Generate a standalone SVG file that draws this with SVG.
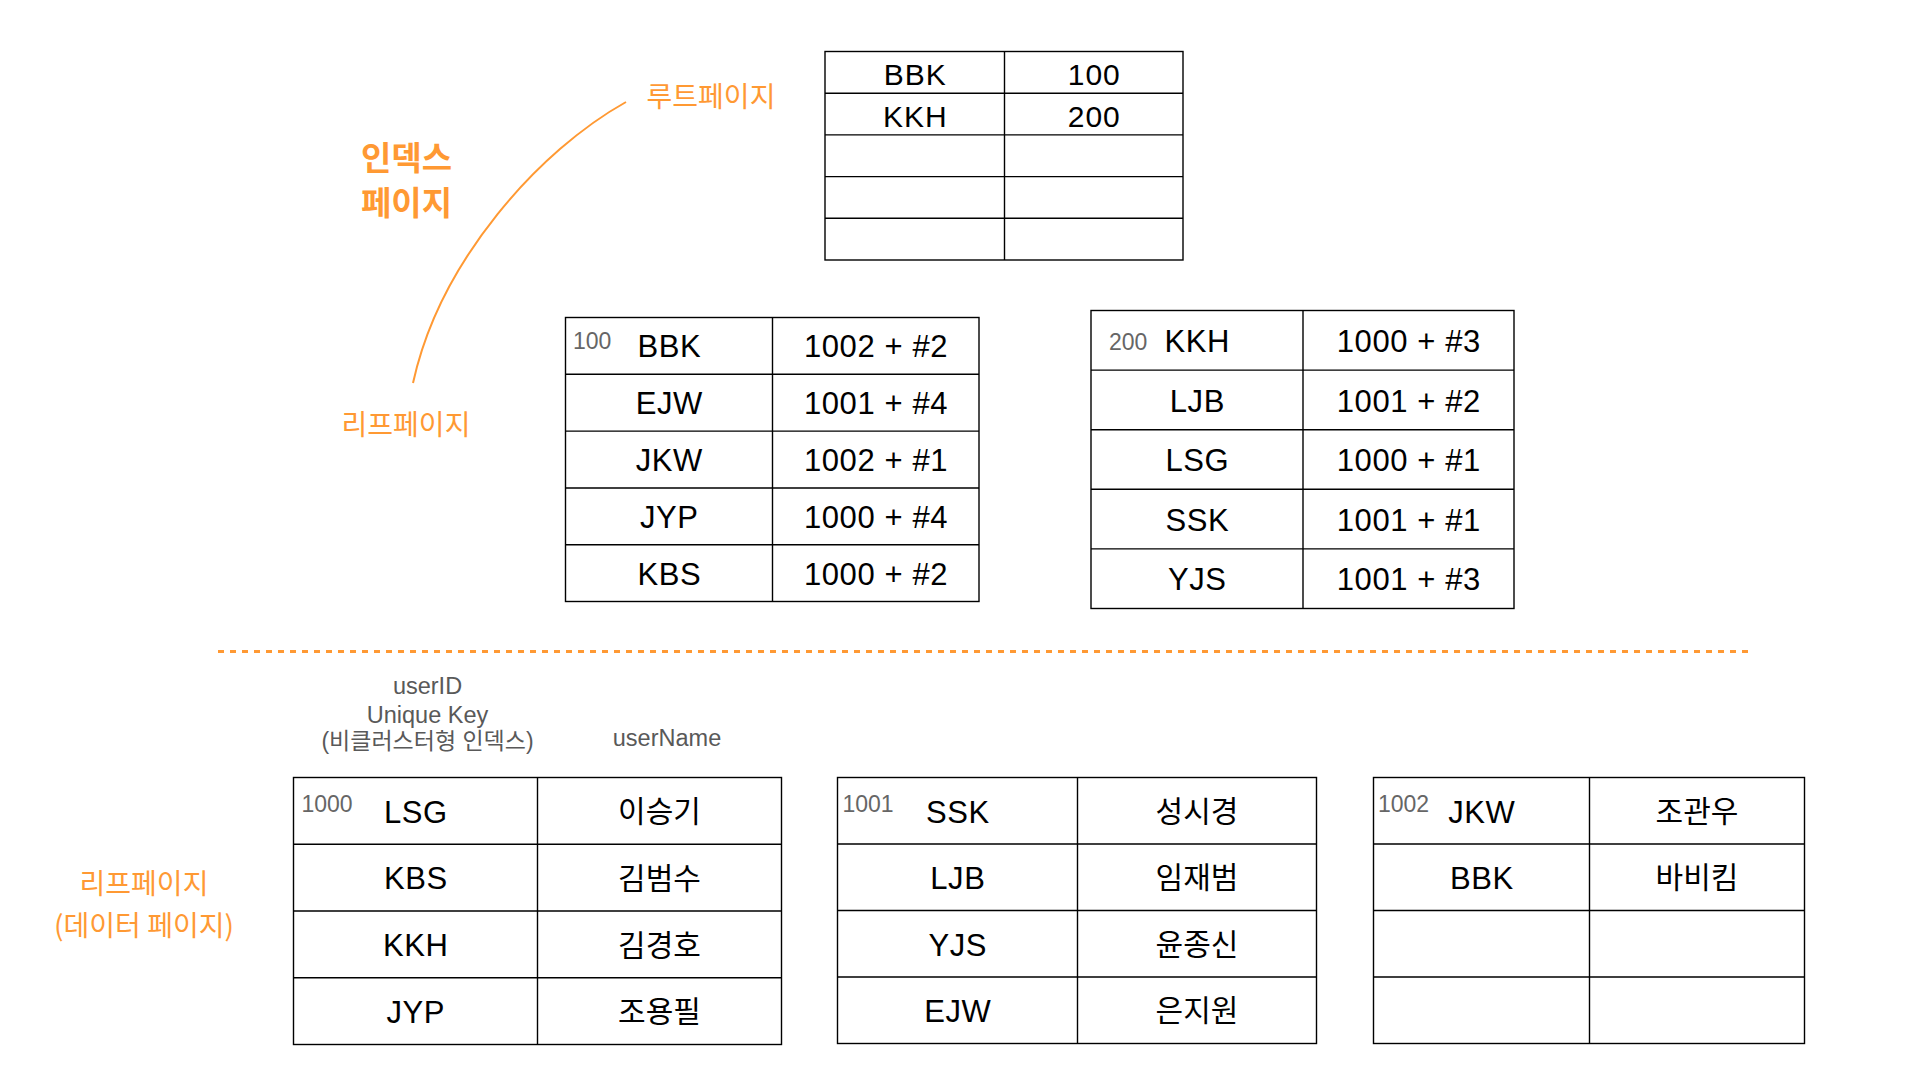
<svg xmlns="http://www.w3.org/2000/svg" width="1916" height="1076" viewBox="0 0 1916 1076">
<style>
.cell{fill:#fff;stroke:#000;stroke-width:1.4}
.ln{stroke:#000;stroke-width:1.4;fill:none}
.t{font-family:"Liberation Sans","Noto Sans CJK KR",Arial,sans-serif;fill:#000;text-anchor:middle}
.k{font-family:"Noto Sans CJK KR","Liberation Sans",sans-serif;fill:#000;text-anchor:middle;font-size:30px}
.sm{font-family:"Liberation Sans",Arial,sans-serif;fill:#666;font-size:23px}
.or{font-family:"Noto Sans CJK KR","Liberation Sans",sans-serif;fill:#FF9933;text-anchor:middle;font-size:28px}
.hd{font-family:"Liberation Sans","Noto Sans CJK KR",sans-serif;fill:#595959;text-anchor:middle;font-size:23.5px}
</style>
<rect width="1916" height="1076" fill="#fff"/>

<g id="connectors">
<path d="M626,102 C540,150 440,260 413,383" fill="none" stroke="#FF9933" stroke-width="2"/>
<path d="M218,651.5 H1750" fill="none" stroke="#FF9933" stroke-width="3" stroke-dasharray="6 6"/>
</g>

<g id="label-root">
<text class="or" x="711" y="107">루트페이지</text>
</g>
<g id="label-index">
<text class="or" x="406.5" y="170" style="font-size:33px;font-weight:bold">인덱스</text>
<text class="or" x="406.5" y="215" style="font-size:33px;font-weight:bold">페이지</text>
</g>
<g id="label-leaf">
<text class="or" x="406" y="435">리프페이지</text>
</g>
<g id="label-data">
<text class="or" x="144" y="894">리프페이지</text>
<text class="or" x="144" y="936">(데이터 페이지)</text>
</g>

<g id="root-page">
<rect class="cell" x="825" y="51.5" width="358" height="208.5"/>
<path class="ln" d="M1004.5,51.5 V260 M825,93.2 H1183 M825,134.9 H1183 M825,176.6 H1183 M825,218.3 H1183"/>
<g class="t" font-size="30" letter-spacing="1">
<text x="915.25" y="85">BBK</text>
<text x="1094.25" y="85">100</text>
<text x="915.25" y="127">KKH</text>
<text x="1094.25" y="127">200</text>
</g>
</g>

<g id="leaf-100">
<rect class="cell" x="565.5" y="317.5" width="413.5" height="284"/>
<path class="ln" d="M772.5,317.5 V601.5 M565.5,374.3 H979 M565.5,431.1 H979 M565.5,488 H979 M565.5,544.8 H979"/>
<text class="sm" x="573" y="349">100</text>
<g class="t" font-size="31" letter-spacing="0.6">
<text x="669.3" y="357">BBK</text><text x="876" y="357">1002 + #2</text>
<text x="669.3" y="414">EJW</text><text x="876" y="414">1001 + #4</text>
<text x="669.3" y="471">JKW</text><text x="876" y="471">1002 + #1</text>
<text x="669.3" y="528">JYP</text><text x="876" y="528">1000 + #4</text>
<text x="669.3" y="584.5">KBS</text><text x="876" y="584.5">1000 + #2</text>
</g>
</g>

<g id="leaf-200">
<rect class="cell" x="1091" y="310.5" width="423" height="298"/>
<path class="ln" d="M1303,310.5 V608.5 M1091,370.1 H1514 M1091,429.7 H1514 M1091,489.3 H1514 M1091,548.9 H1514"/>
<text class="sm" x="1109" y="350">200</text>
<g class="t" font-size="31" letter-spacing="0.6">
<text x="1197.3" y="352">KKH</text><text x="1408.8" y="352">1000 + #3</text>
<text x="1197.3" y="411.5">LJB</text><text x="1408.8" y="411.5">1001 + #2</text>
<text x="1197.3" y="471">LSG</text><text x="1408.8" y="471">1000 + #1</text>
<text x="1197.3" y="530.5">SSK</text><text x="1408.8" y="530.5">1001 + #1</text>
<text x="1197.3" y="590">YJS</text><text x="1408.8" y="590">1001 + #3</text>
</g>
</g>

<g id="headers">
<text class="hd" x="427.5" y="694">userID</text>
<text class="hd" x="427.5" y="723">Unique Key</text>
<text class="hd" x="427.5" y="749" style="font-size:23px">(비클러스터형 인덱스)</text>
<text class="hd" x="667" y="746">userName</text>
</g>

<g id="data-1000">
<rect class="cell" x="293.5" y="777.5" width="488" height="267"/>
<path class="ln" d="M537.5,777.5 V1044.5 M293.5,844.25 H781.5 M293.5,911 H781.5 M293.5,977.75 H781.5"/>
<text class="sm" x="301.5" y="811.5">1000</text>
<g class="t" font-size="31" letter-spacing="0.6">
<text x="415.8" y="822.5">LSG</text>
<text x="415.8" y="889">KBS</text>
<text x="415.8" y="956">KKH</text>
<text x="415.8" y="1022.5">JYP</text>
</g>
<text class="k" x="659.5" y="821.5">이승기</text>
<text class="k" x="659.5" y="888.5">김범수</text>
<text class="k" x="659.5" y="955.5">김경호</text>
<text class="k" x="659.5" y="1022">조용필</text>
</g>

<g id="data-1001">
<rect class="cell" x="837.5" y="777.5" width="479" height="266"/>
<path class="ln" d="M1077.5,777.5 V1043.5 M837.5,844 H1316.5 M837.5,910.5 H1316.5 M837.5,977 H1316.5"/>
<text class="sm" x="842.5" y="811.5">1001</text>
<g class="t" font-size="31" letter-spacing="0.6">
<text x="957.8" y="822.5">SSK</text>
<text x="957.8" y="889">LJB</text>
<text x="957.8" y="955.5">YJS</text>
<text x="957.8" y="1022">EJW</text>
</g>
<text class="k" x="1197" y="821.5">성시경</text>
<text class="k" x="1197" y="888">임재범</text>
<text class="k" x="1197" y="954.5">윤종신</text>
<text class="k" x="1197" y="1021">은지원</text>
</g>

<g id="data-1002">
<rect class="cell" x="1373.5" y="777.5" width="431" height="266"/>
<path class="ln" d="M1589.5,777.5 V1043.5 M1373.5,844 H1804.5 M1373.5,910.5 H1804.5 M1373.5,977 H1804.5"/>
<text class="sm" x="1378" y="811.5">1002</text>
<g class="t" font-size="31" letter-spacing="0.6">
<text x="1481.8" y="822.5">JKW</text>
<text x="1481.8" y="889">BBK</text>
</g>
<text class="k" x="1697" y="821.5">조관우</text>
<text class="k" x="1697" y="888">바비킴</text>
</g>
</svg>
